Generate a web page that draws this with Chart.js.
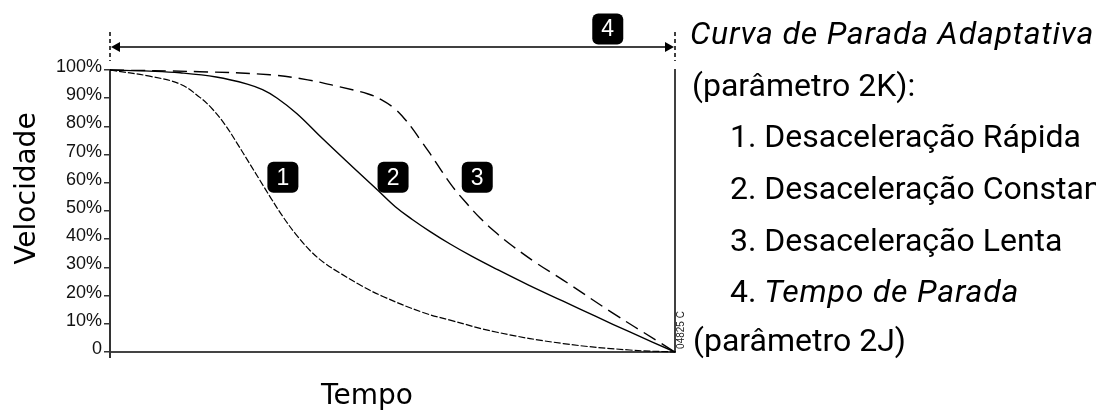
<!DOCTYPE html>
<html lang="pt">
<head>
<meta charset="UTF-8">
<script src="https://cdn.jsdelivr.net/npm/chart.js@4/dist/chart.umd.min.js"></script>
<title>Curva de Parada Adaptativa</title>
<style>
  html, body { margin: 0; padding: 0; background: #fff; overflow: hidden; }
  #wrap { position: relative; width: 1096px; height: 411px; }
</style>
</head>
<body>
<div id="wrap"><canvas id="chart" width="1096" height="411"></canvas></div>
<script>
// tempo em % do tempo de parada, velocidade em %
const tempoRapida = [0, 7, 12.4, 15.9, 18.2, 20.4, 22.5, 24.5, 26.5, 28.5, 30.6, 32.8, 35.4, 38, 40.7, 44.5, 48.3, 55.4, 60.2, 68.5, 80.2, 92, 100];
const velRapida   = [100, 97.8, 95, 90.3, 86, 80.5, 74, 67.5, 61, 54.5, 48, 42, 36, 31.5, 28, 23.5, 19.7, 14, 11.3, 7, 3, 0.7, 0];

const tempoConstante = [0, 7, 12.4, 18.8, 24.3, 27, 29.6, 33.1, 37.7, 43, 47.3, 50.5, 53.5, 56.6, 60.2, 64, 68.5, 74, 80.2, 86, 92, 100];
const velConstante   = [100, 99.6, 99, 97.5, 95, 93, 90, 84.5, 75.5, 65.5, 57.5, 51.5, 47, 42.8, 38.3, 34, 29.3, 23.8, 18, 12.6, 7.1, 0];

const tempoLenta = [0, 15.9, 28.3, 35, 40.7, 45.7, 48, 50.4, 52, 53.5, 55, 56.6, 60.5, 63, 65.5, 68.5, 71.3, 75.5, 80.2, 89, 96.8, 100];
const velLenta   = [100, 99.4, 98.3, 96.5, 94, 91.5, 89.5, 86.3, 83, 79.3, 75, 70.5, 59, 53, 47.5, 42, 37.5, 31.5, 25.5, 13.8, 4, 0];

const yTicks = [0, 10, 20, 30, 40, 50, 60, 70, 80, 90, 100];

const tituloY = 'Velocidade';
const tituloX = 'Tempo';

// marcadores numerados (posição em unidades de dados)
const marcadores = [
  { txt: '1', t: 30.6, v: 62 },
  { txt: '2', t: 50.1, v: 62 },
  { txt: '3', t: 65, v: 62 },
  { txt: '4', t: 88.1, v: 114.5 }
];

const legenda = [
  { parts: [{ s: 'Curva de Parada Adaptativa', i: true }], x: 690, y: 44 },
  { parts: [{ s: '(parâmetro 2K):' }], x: 692, y: 96 },
  { parts: [{ s: '1. Desaceleração Rápida' }], x: 730, y: 147 },
  { parts: [{ s: '2. Desaceleração Constante' }], x: 730, y: 199 },
  { parts: [{ s: '3. Desaceleração Lenta' }], x: 730, y: 251 },
  { parts: [{ s: '4. ' }, { s: 'Tempo de Parada', i: true }], x: 730, y: 302 },
  { parts: [{ s: '(parâmetro 2J)' }], x: 693, y: 351 }
];

function pontos(xs, ys) {
  return xs.map((x, i) => ({ x: x, y: ys[i] }));
}

function caixa(ctx, cx, cy, txt) {
  const w = 31, h = 31, r = 6;
  ctx.fillStyle = '#000';
  ctx.beginPath();
  ctx.roundRect(cx - w / 2, cy - h / 2, w, h, r);
  ctx.fill();
  ctx.fillStyle = '#fff';
  ctx.font = '23px "Liberation Sans", Arial, sans-serif';
  ctx.textAlign = 'center';
  ctx.textBaseline = 'middle';
  ctx.fillText(txt, cx, cy + 1);
}

const anotacoes = {
  id: 'anotacoes',
  afterDraw(chart) {
    const ctx = chart.ctx;
    const xs = chart.scales.x, ys = chart.scales.y;
    const x0 = xs.getPixelForValue(0), x1 = xs.getPixelForValue(100);
    const yTop = ys.getPixelForValue(100), yBot = ys.getPixelForValue(0);
    ctx.save();

    // linha vertical direita
    ctx.strokeStyle = '#000';
    ctx.lineWidth = 1.5;
    ctx.beginPath();
    ctx.moveTo(x1, yTop - 1);
    ctx.lineTo(x1, yBot);
    ctx.stroke();

    // prolongamento do eixo abaixo da origem
    ctx.strokeStyle = '#333';
    ctx.lineWidth = 2;
    ctx.beginPath();
    ctx.moveTo(x0, yBot);
    ctx.lineTo(x0, yBot + 6);
    ctx.stroke();

    // seta do tempo de parada
    const ya = 47;
    ctx.strokeStyle = '#000';
    ctx.lineWidth = 1.3;
    ctx.beginPath();
    ctx.moveTo(x0 + 6, ya);
    ctx.lineTo(x1 - 6, ya);
    ctx.stroke();
    ctx.fillStyle = '#000';
    ctx.beginPath();
    ctx.moveTo(x0 + 1, ya); ctx.lineTo(x0 + 10, ya - 5); ctx.lineTo(x0 + 10, ya + 5); ctx.closePath();
    ctx.fill();
    ctx.beginPath();
    ctx.moveTo(x1 - 1, ya); ctx.lineTo(x1 - 10, ya - 5); ctx.lineTo(x1 - 10, ya + 5); ctx.closePath();
    ctx.fill();

    // tracejados verticais nas extremidades
    ctx.setLineDash([4, 3]);
    ctx.lineWidth = 1.5;
    [x0, x1].forEach(px => {
      ctx.beginPath();
      ctx.moveTo(px, 32);
      ctx.lineTo(px, 61);
      ctx.stroke();
    });
    ctx.setLineDash([]);

    // marcadores numerados
    marcadores.forEach(m => caixa(ctx, xs.getPixelForValue(m.t), ys.getPixelForValue(m.v), m.txt));

    // títulos dos eixos
    ctx.fillStyle = '#000';
    ctx.font = '28px "DejaVu Sans", sans-serif';
    ctx.textBaseline = 'alphabetic';
    ctx.textAlign = 'center';
    ctx.fillText(tituloX, 367, 404);
    ctx.save();
    ctx.translate(35, 188.5);
    ctx.rotate(-Math.PI / 2);
    ctx.fillText(tituloY, 0, 0);
    ctx.restore();

    // código da figura
    ctx.save();
    ctx.font = '10px "Liberation Sans", sans-serif';
    ctx.fillStyle = '#222';
    ctx.translate(684, 330);
    ctx.rotate(-Math.PI / 2);
    ctx.textAlign = 'center';
    ctx.fillText('04825 C', 0, 0);
    ctx.restore();

    // legenda à direita
    ctx.textAlign = 'left';
    ctx.fillStyle = '#000';
    legenda.forEach(l => {
      let px = l.x;
      l.parts.forEach(p => {
        ctx.font = (p.i ? 'italic ' : '') + '32px Roboto, sans-serif';
        ctx.letterSpacing = p.i ? '0.8px' : '0px';
        ctx.fillText(p.s, px, l.y);
        px += ctx.measureText(p.s).width;
      });
    });
    ctx.letterSpacing = '0px';

    ctx.restore();
  }
};

new Chart(document.getElementById('chart'), {
  type: 'line',
  data: {
    datasets: [
      {
        label: '1. Desaceleração Rápida',
        data: pontos(tempoRapida, velRapida),
        borderColor: '#000',
        borderWidth: 1.2,
        borderDash: [7, 2],
        pointRadius: 0,
        tension: 0.4
      },
      {
        label: '2. Desaceleração Constante',
        data: pontos(tempoConstante, velConstante),
        borderColor: '#000',
        borderWidth: 1.4,
        pointRadius: 0,
        tension: 0.4
      },
      {
        label: '3. Desaceleração Lenta',
        data: pontos(tempoLenta, velLenta),
        borderColor: '#000',
        borderWidth: 1.4,
        borderDash: [14, 7],
        pointRadius: 0,
        tension: 0.4
      }
    ]
  },
  options: {
    responsive: false,
    animation: false,
    devicePixelRatio: 1,
    clip: false,
    layout: { padding: { left: 0, top: 70, right: 421, bottom: 59 } },
    plugins: {
      legend: { display: false },
      tooltip: { enabled: false }
    },
    scales: {
      x: {
        type: 'linear',
        min: 0,
        max: 100,
        ticks: { display: false },
        grid: { display: false },
        border: { display: true, color: '#444', width: 2 },
        afterFit(scale) { scale.height = 0; }
      },
      y: {
        type: 'linear',
        min: 0,
        max: 100,
        afterBuildTicks(scale) { scale.ticks = yTicks.map(v => ({ value: v })); },
        ticks: {
          color: '#111',
          padding: 2,
          labelOffset: -3,
          font: { family: '"Liberation Sans", Arial, sans-serif', size: 18 },
          callback: v => v === 0 ? '0' : v + '%'
        },
        grid: { drawOnChartArea: false, drawTicks: true, tickLength: 6, color: '#333', lineWidth: 1.5 },
        border: { display: true, color: '#333', width: 2 },
        afterFit(scale) { scale.width = 110; }
      }
    }
  },
  plugins: [anotacoes]
});
</script>
</body>
</html>
